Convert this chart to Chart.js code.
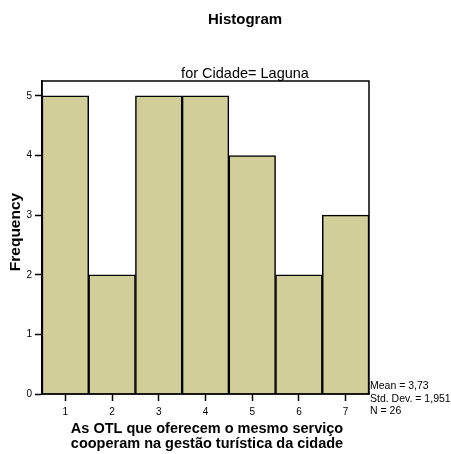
<!DOCTYPE html>
<html>
<head>
<meta charset="utf-8">
<script src="https://cdn.jsdelivr.net/npm/chart.js@4/dist/chart.umd.min.js"></script>
<style>
  html, body { margin: 0; padding: 0; background: #fff; }
  #chart { display: block; }
</style>
</head>
<body>
<canvas id="chart" width="451" height="454"></canvas>
<script>
// histogram data
const categories = ['1', '2', '3', '4', '5', '6', '7'];
const frequencies = [5, 2, 5, 5, 4, 2, 3];
const yTicks = [0, 1, 2, 3, 4, 5];
const statLines = ['Mean = 3,73', 'Std. Dev. = 1,951', 'N = 26'];

const FONT = '"Liberation Sans", Arial, sans-serif';

// draws the frame and all the loose text around the plot
const textPlugin = {
  id: 'textPlugin',
  afterDraw(chart) {
    const ctx = chart.ctx;
    const a = chart.chartArea;
    ctx.save();
    ctx.strokeStyle = '#000';
    ctx.lineWidth = 1.5;
    ctx.strokeRect(a.left, a.top, a.right - a.left, a.bottom - a.top);

    ctx.fillStyle = '#000';
    ctx.textBaseline = 'alphabetic';
    ctx.textAlign = 'center';
    ctx.font = 'bold 15px ' + FONT;
    ctx.fillText('Histogram', 245, 24);

    ctx.font = '14.5px ' + FONT;
    ctx.fillText('for Cidade= Laguna', 245, 78);

    ctx.font = 'bold 14.5px ' + FONT;
    ctx.fillText('As OTL que oferecem o mesmo serviço', 207, 433);
    ctx.fillText('cooperam na gestão turística da cidade', 207, 448);

    ctx.save();
    ctx.translate(20, 232);
    ctx.rotate(-Math.PI / 2);
    ctx.font = 'bold 15.5px ' + FONT;
    ctx.fillText('Frequency', 0, 0);
    ctx.restore();

    ctx.textAlign = 'left';
    ctx.font = '10.5px ' + FONT;
    statLines.forEach((s, i) => ctx.fillText(s, 370, 389 + i * 12.5));
    ctx.restore();
  }
};

const ctx = document.getElementById('chart').getContext('2d');
const chart = new Chart(ctx, {
  type: 'bar',
  data: {
    labels: categories,
    datasets: [{
      data: frequencies,
      backgroundColor: '#d2ce99',
      borderColor: '#000',
      borderWidth: 1.5,
      barPercentage: 1,
      categoryPercentage: 1
    }]
  },
  options: {
    responsive: false,
    animation: false,
    layout: { padding: { top: 81, right: 82, left: 0, bottom: 0 } },
    plugins: {
      legend: { display: false },
      tooltip: { enabled: false }
    },
    scales: {
      x: {
        offset: true,
        afterFit(scale) { scale.height = 60; },
        grid: {
          offset: false,
          drawOnChartArea: false,
          drawTicks: true,
          tickLength: 7,
          tickColor: '#000',
          tickWidth: 1.5
        },
        border: { color: '#000', width: 1.5 },
        ticks: {
          color: '#000',
          font: { family: FONT, size: 10 },
          padding: 5,
          maxRotation: 0
        }
      },
      y: {
        min: 0,
        max: 5.25,
        afterFit(scale) { scale.width = 42; },
        afterBuildTicks(scale) {
          scale.ticks = yTicks.map(v => ({ value: v }));
        },
        grid: {
          drawOnChartArea: false,
          drawTicks: true,
          tickLength: 7,
          tickColor: '#000',
          tickWidth: 1.5
        },
        border: { color: '#000', width: 1.5 },
        ticks: {
          color: '#000',
          font: { family: FONT, size: 10 },
          padding: 3
        }
      }
    }
  },
  plugins: [textPlugin]
});
</script>
</body>
</html>
